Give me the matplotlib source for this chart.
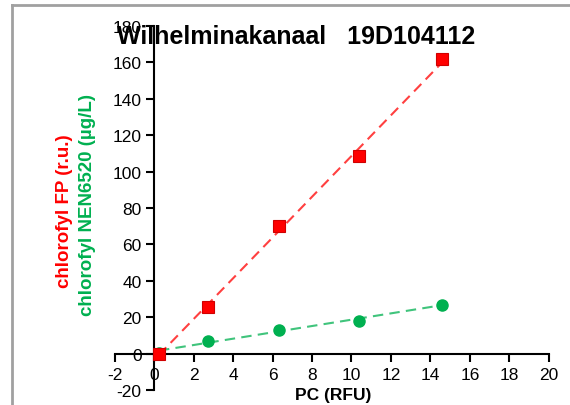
import numpy as np
import matplotlib
matplotlib.use("Agg")
import matplotlib.pyplot as plt
from matplotlib.lines import Line2D

plt.rcParams['font.family'] = ['Liberation Sans', 'DejaVu Sans']
plt.rcParams['axes.unicode_minus'] = False

# Data
pc_rfu = [0.25, 2.73, 6.33, 10.38, 14.57]
chl_fp = [0.0, 25.8, 70.3, 108.5, 161.8]
chl_nen = [0.5, 7.1, 13.2, 18.1, 26.8]

title = "Wilhelminakanaal   19D104112"
xlabel = "PC (RFU)"
ylabel_red = "chlorofyl FP (r.u.)"
ylabel_green = "chlorofyl NEN6520 (µg/L)"
xticks = list(range(-2, 21, 2))
yticks = list(range(-20, 181, 20))

red = "#ff0000"
green = "#00b050"

fig = plt.figure(figsize=(5.70, 4.06), dpi=100)
ax = fig.add_axes([0.201, 0.037, 0.762, 0.8965])

x = np.array(pc_rfu)
# trendlines
for yv, col in ((chl_fp, red), (chl_nen, green)):
    k, b = np.polyfit(x, np.array(yv), 1)
    xs = np.array([x.min(), x.max()])
    ax.plot(xs, k * xs + b, linestyle=(0, (5, 3)), color=col, lw=1.5, alpha=0.75, zorder=2)

ax.plot(pc_rfu, chl_nen, 'o', color=green, ms=8, mec=green, zorder=3)
ax.plot(pc_rfu, chl_fp, 's', color=red, ms=9, mec="#d00000", mew=0.8, zorder=4)

ax.set_xlim(-2, 20)
ax.set_ylim(-20, 180)
ax.set_xticks(xticks)
ax.set_yticks(yticks)
ax.spines['top'].set_visible(False)
ax.spines['right'].set_visible(False)
ax.spines['left'].set_position(('data', 0))
ax.spines['bottom'].set_position(('data', 0))
for s in ('left', 'bottom'):
    ax.spines[s].set_linewidth(1.5)
ax.tick_params(axis='both', direction='out', length=6, width=1.5, labelsize=12.5, colors='black')
ax.tick_params(axis='x', pad=4)
ax.tick_params(axis='y', pad=3)

fig.text(0.519, 0.909, title, fontsize=18, fontweight='bold', ha='center', va='center')
fig.text(0.584, 0.026, xlabel, fontsize=12.5, fontweight='bold', ha='center', va='center')
fig.text(0.114, 0.48, ylabel_red, fontsize=13.5, fontweight='bold', color=red,
         rotation=90, ha='center', va='center')
fig.text(0.154, 0.495, ylabel_green, fontsize=13.5, fontweight='bold', color=green,
         rotation=90, ha='center', va='center')

# outer frame lines
fig.add_artist(Line2D([12/570, 12/570], [0, 1 - 6/406], color='#a0a0a0', lw=2, transform=fig.transFigure))
fig.add_artist(Line2D([12/570, 1], [1 - 6/406, 1 - 6/406], color='#a0a0a0', lw=2, transform=fig.transFigure))

fig.savefig("out.png", dpi=100)
